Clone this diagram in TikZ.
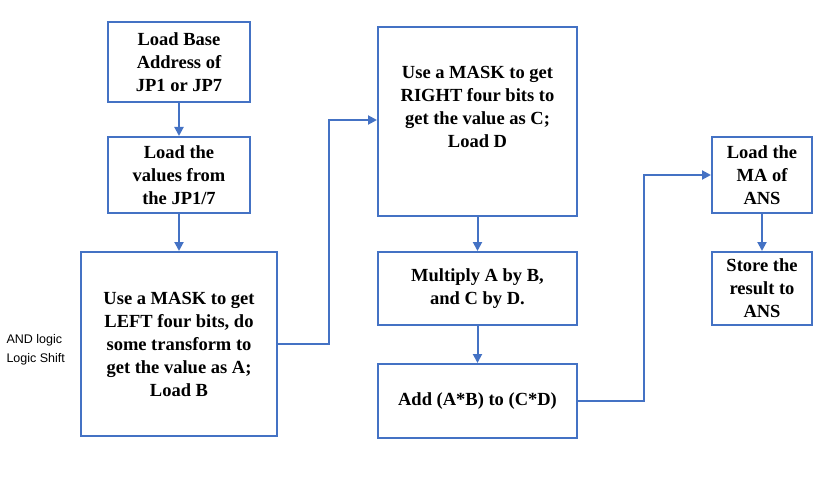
\documentclass[tikz,border=0pt]{standalone}
\usepackage{fontspec}
\setmainfont{Liberation Serif}
\newfontfamily\sansf{Liberation Sans}
\usetikzlibrary{arrows.meta}
\definecolor{bl}{RGB}{68,114,196}
\begin{document}
\begin{tikzpicture}[x=1pt,y=-1pt,
 box/.style={draw=bl,line width=2pt,align=center,font=\fontsize{18.5}{23}\selectfont\bfseries,inner sep=0pt},
 con/.style={draw=bl,line width=2pt,-{Triangle[length=9pt,width=9pt]}}]
\useasboundingbox (0,0) rectangle (825,484);
\node[box,minimum width=142,minimum height=80] (b1) at (179,62) {Load Base\\Address of\\JP1 or JP7};
\node[box,minimum width=142,minimum height=76] (b2) at (179,175) {Load the\\values from\\the JP1/7};
\node[box,minimum width=196,minimum height=184] (b3) at (179,344) {Use a MASK to get\\LEFT four bits, do\\some transform to\\get the value as A;\\Load B};
\node[box,minimum width=199,minimum height=189] (b4) at (477.5,121.5) {};
\node[align=center,font=\fontsize{18.5}{23}\selectfont\bfseries,anchor=north] (t4) at (477.5,63) {Use a MASK to get\\RIGHT four bits to\\get the value as C;\\Load D};
\node[box,minimum width=199,minimum height=73] (b5) at (477.5,288.5) {Multiply A by B,\\and C by D.};
\node[box,minimum width=199,minimum height=74] (b6) at (477.5,401) {Add (A*B) to (C*D)};
\node[box,minimum width=100,minimum height=76] (b7) at (762,175) {Load the\\MA of\\ANS};
\node[box,minimum width=100,minimum height=73] (b8) at (762,288.5) {Store the\\result to\\ANS};
\node[align=left,font=\sansf\fontsize{12.5}{19}\selectfont,anchor=west] (lbl) at (3,350) {AND logic\\Logic Shift};
\draw[con] (b1) -- (b2);
\draw[con] (b2) -- (b3);
\draw[con] (b3.east) -- ++(51,0) |- (b4.west |- 0,120);
\draw[con] (b4) -- (b5);
\draw[con] (b5) -- (b6);
\draw[con] (b6.east) -- ++(66,0) |- (b7.west);
\draw[con] (b7) -- (b8);
\end{tikzpicture}
\end{document}
